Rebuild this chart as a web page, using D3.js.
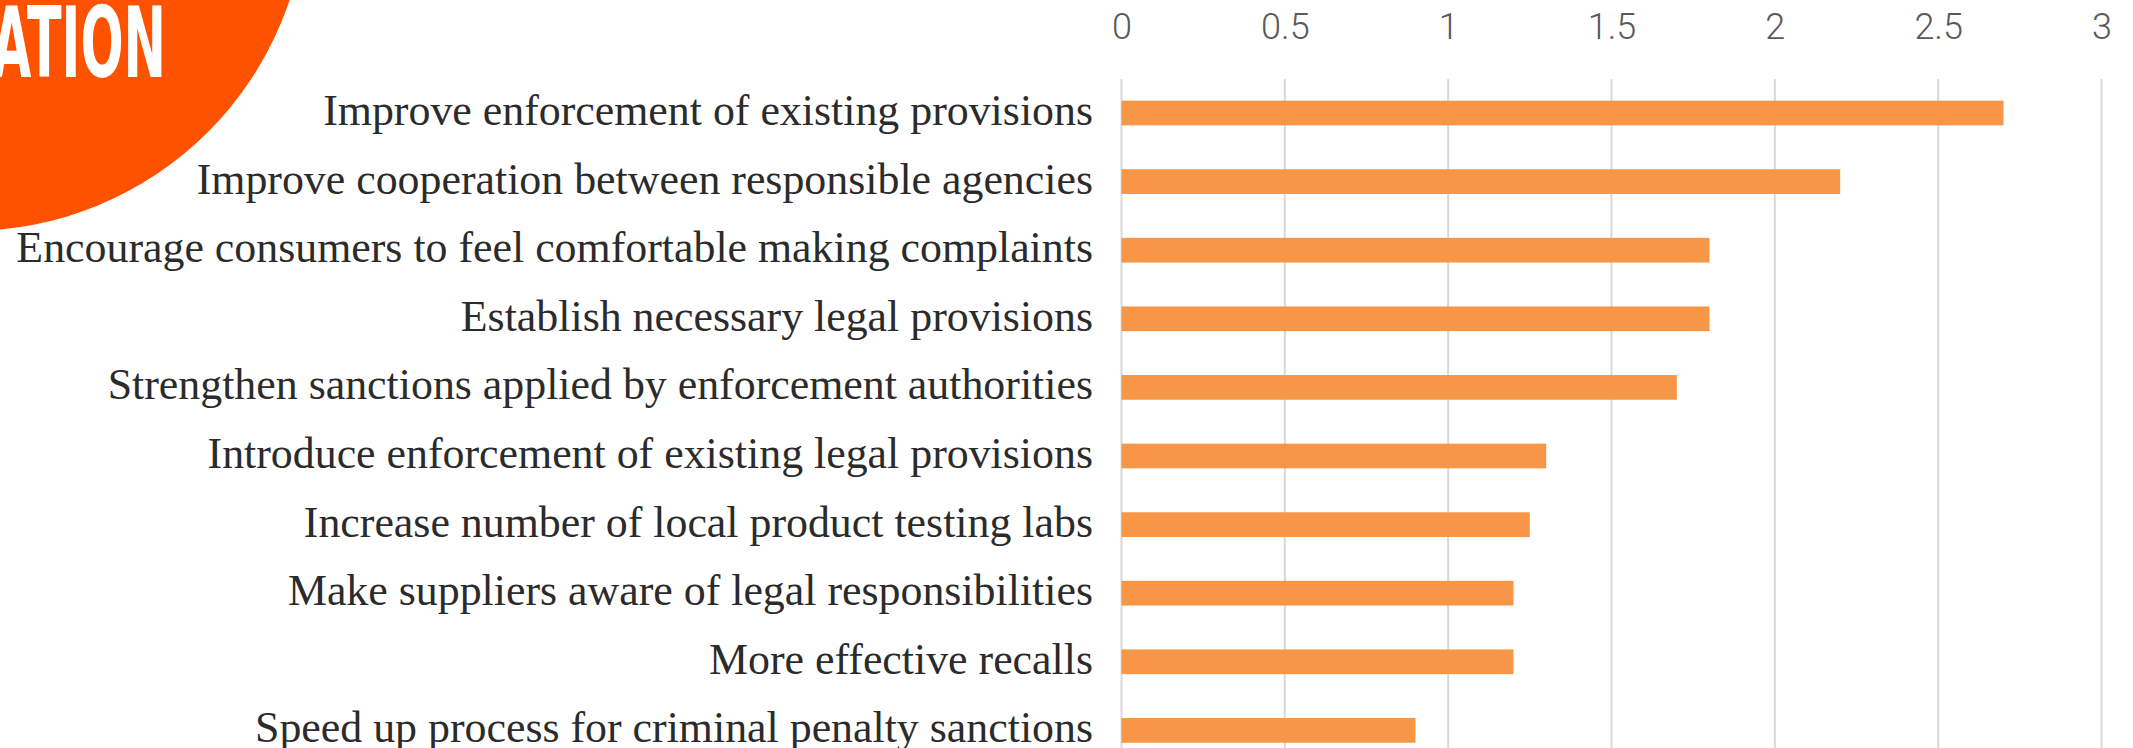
<!DOCTYPE html>
<html>
<head>
<meta charset="utf-8">
<script src="https://cdn.jsdelivr.net/npm/d3@7"></script>
<style>
  html, body { margin: 0; padding: 0; background: #fff; overflow: hidden; }
  svg { display: block; }
</style>
</head>
<body>
<div id="container"><svg></svg></div>
<script>
let width = 2133;
let height = 748;

// data
let categories = [
  'Improve enforcement of existing provisions',
  'Improve cooperation between responsible agencies',
  'Encourage consumers to feel comfortable making complaints',
  'Establish necessary legal provisions',
  'Strengthen sanctions applied by enforcement authorities',
  'Introduce enforcement of existing legal provisions',
  'Increase number of local product testing labs',
  'Make suppliers aware of legal responsibilities',
  'More effective recalls',
  'Speed up process for criminal penalty sanctions'
];
let values = [2.7, 2.2, 1.8, 1.8, 1.7, 1.3, 1.25, 1.2, 1.2, 0.9];
let tickValues = [0, 0.5, 1, 1.5, 2, 2.5, 3];
let tickLabels = ['0', '0.5', '1', '1.5', '2', '2.5', '3'];
let headerText = 'ATION';

function draw_chart(containerid) {
    let svg = d3.select('#' + containerid)
        .select('svg')
        .attr('width', width)
        .attr('height', height);

    // 左上角的橙色圆和标题残片
    svg.append('circle')
        .attr('cx', -31)
        .attr('cy', -107)
        .attr('r', 338)
        .attr('fill', '#ff5200');

    svg.append('text')
        .attr('x', -8)
        .attr('y', 77)
        .attr('textLength', 174)
        .attr('lengthAdjust', 'spacingAndGlyphs')
        .style('font-family', "'DejaVu Sans Condensed', 'DejaVu Sans', sans-serif")
        .style('font-weight', 'bold')
        .style('font-size', '98px')
        .style('fill', '#fff')
        .text(headerText);

    let x = d3.scaleLinear()
        .domain([0, 3])
        .range([1121.5, 2101.5]);

    let y = d3.scaleBand()
        .domain(categories)
        .range([78.7, 78.7 + 68.6 * categories.length])
        .paddingInner(0.64)
        .paddingOuter(0.32);

    // gridlines
    svg.append('g')
        .selectAll('line')
        .data(tickValues)
        .join('line')
        .attr('x1', d => x(d))
        .attr('x2', d => x(d))
        .attr('y1', 79)
        .attr('y2', height)
        .attr('stroke', '#d9d9d9')
        .attr('stroke-width', 2);

    // x axis on top
    let axis = svg.append('g')
        .attr('transform', 'translate(0,39)')
        .call(d3.axisTop(x)
            .tickValues(tickValues)
            .tickFormat((d, i) => tickLabels[i])
            .tickSize(0)
            .tickPadding(0));
    axis.select('.domain').remove();
    axis.selectAll('text')
        .style('font-family', 'Roboto, sans-serif')
        .style('font-weight', 300)
        .style('font-size', '36px')
        .style('fill', '#595959');

    // bars
    svg.append('g')
        .selectAll('rect')
        .data(values)
        .join('rect')
        .attr('x', x(0))
        .attr('y', (d, i) => y(categories[i]))
        .attr('width', d => x(d) - x(0))
        .attr('height', y.bandwidth())
        .attr('fill', '#f79646');

    // category labels
    let labels = svg.append('g')
        .selectAll('text')
        .data(categories)
        .join('text')
        .attr('x', 1093)
        .attr('y', d => y(d) + y.bandwidth() / 2 + 12)
        .attr('text-anchor', 'end')
        .style('font-family', "'Liberation Serif', serif")
        .style('font-size', '40px')
        .style('fill', '#2b2b2b')
        .text(d => d);

    // 按最长标签的宽度调整字号
    let longest = d3.max(labels.nodes(), n => n.getComputedTextLength());
    let fs = 40 * 1077 / longest;
    labels.style('font-size', fs + 'px');
}

draw_chart('container');
</script>
</body>
</html>
